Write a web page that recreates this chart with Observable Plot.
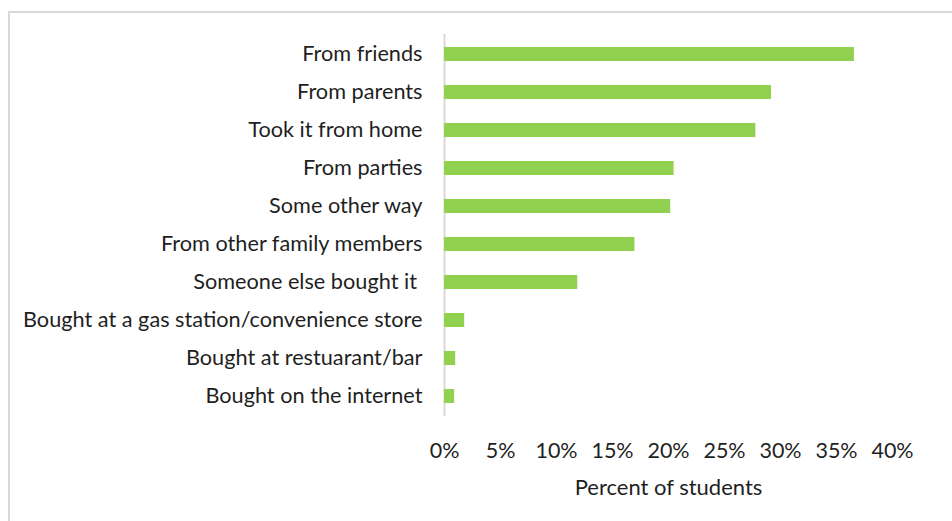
<!DOCTYPE html>
<html>
<head>
<meta charset="utf-8">
<script src="https://cdn.jsdelivr.net/npm/d3@7"></script>
<script src="https://cdn.jsdelivr.net/npm/@observablehq/plot@0.6"></script>
<style>
  html, body { margin: 0; padding: 0; background: #fff; overflow: hidden; }
  #wrap { position: relative; width: 952px; height: 521px; overflow: hidden; }
  #border { position: absolute; left: 8px; top: 11px; width: 1000px; height: 600px;
            border: 2px solid #d9d9d9; box-sizing: border-box; pointer-events: none; }
  #chart { position: absolute; left: 0; top: 0; }
</style>
</head>
<body>
<div id="wrap">
  <div id="border"></div>
  <div id="chart"></div>
</div>
<script>
const categories = [
  "From friends",
  "From parents",
  "Took it from home",
  "From parties",
  "Some other way",
  "From other family members",
  "Someone else bought it ",
  "Bought at a gas station/convenience store",
  "Bought at restuarant/bar",
  "Bought on the internet"
];
const percents = [36.6, 29.2, 27.8, 20.5, 20.2, 17.0, 11.9, 1.8, 1.0, 0.9];
const xTicks = [0, 5, 10, 15, 20, 25, 30, 35, 40];
const xAxisTitle = ["Percent of students"];

const data = categories.map((c, i) => ({category: c, value: percents[i] / 100}));
const FONT = "Lato, 'Open Sans', sans-serif";
const TEXT = "#1f1f1f";

const chart = Plot.plot({
  width: 952,
  height: 521,
  marginLeft: 444,
  marginRight: 60,
  marginTop: 34,
  marginBottom: 105,
  style: { fontFamily: FONT, fontSize: "22px", color: TEXT, background: "transparent" },
  x: { domain: [0, 0.4], axis: null },
  y: { domain: categories, paddingInner: 0.63, paddingOuter: 0.315, axis: null },
  marks: [
    Plot.ruleX([0], { stroke: "#d9d9d9", strokeWidth: 2 }),
    Plot.barX(data, { x: "value", y: "category", fill: "#92D050" }),
    Plot.axisY({ tickSize: 0, tickPadding: 22, fontSize: 21.7, fill: TEXT, label: null }),
    Plot.axisX({
      ticks: xTicks.map(d => d / 100),
      tickSize: 0,
      tickPadding: 26,
      fontSize: 21.5,
      fill: TEXT,
      tickFormat: d => Math.round(d * 100) + "%",
      label: null
    }),
    Plot.text(xAxisTitle, {
      text: d => d,
      frameAnchor: "bottom",
      lineAnchor: "middle",
      dy: 71,
      fontSize: 22,
      fill: TEXT
    })
  ]
});
document.getElementById("chart").appendChild(chart);
</script>
</body>
</html>
